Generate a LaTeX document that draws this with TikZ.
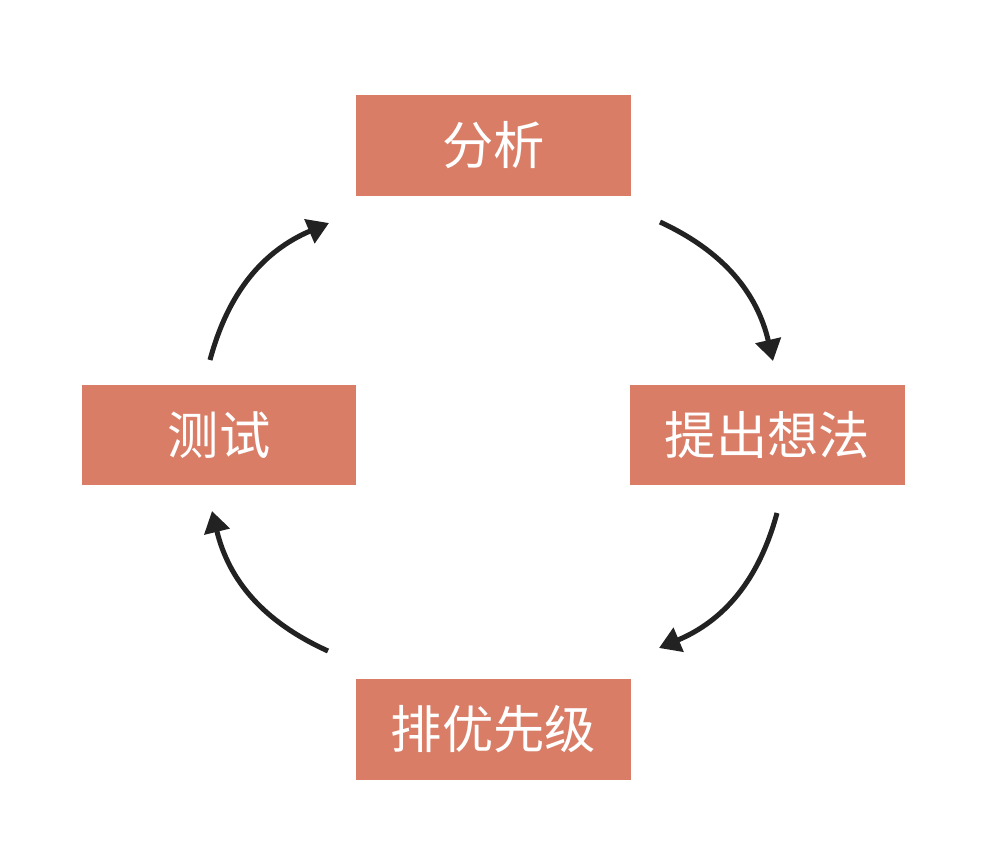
\documentclass[tikz,border=0pt]{standalone}
\usepackage{fontspec}
\newfontfamily\cjk{Noto Sans CJK SC}
\usepackage{tikz}
\usetikzlibrary{arrows.meta,positioning}
\definecolor{boxred}{HTML}{D97D67}
\definecolor{arrowgray}{HTML}{222222}
\tikzset{
  every picture/.style = {
    x = 0.75pt,
    y = -0.75pt,
  }
  ,
  stepbox/.style = {
    rectangle,
    fill = boxred,
    text = white,
    font = \cjk\fontsize{38.5}{40}\selectfont,
    minimum width = 206pt,
    minimum height = 75.5pt,
    inner sep = 0pt
  }
  , % curved arrows between boxes
  cycle-edge/.style = {
    draw = arrowgray,
    line width = 3.8pt,
    -{Triangle[length=16pt,width=19pt]},
    bend left = 26
  }
}
\begin{document}
\begin{tikzpicture}
\useasboundingbox (0,0) rectangle (988,841);
\node [stepbox] (analyse) at (493.5,145.5) {分析};
\node [stepbox] (idea) at (767.5,435) {提出想法};
\node [stepbox] (rank) at (493.5,729.5) {排优先级};
\node [stepbox] (test) at (219,435) {测试};

\coordinate (a1s) at (660,222);  \coordinate (a1e) at (773,361);
\coordinate (a2s) at (777,513);  \coordinate (a2e) at (659,648);
\coordinate (a3s) at (328,651);  \coordinate (a3e) at (212,511);
\coordinate (a4s) at (210,360);  \coordinate (a4e) at (329,223);

\path (a1s) edge [cycle-edge] (a1e)
      (a2s) edge [cycle-edge] (a2e)
      (a3s) edge [cycle-edge] (a3e)
      (a4s) edge [cycle-edge] (a4e);
\end{tikzpicture}
\end{document}
